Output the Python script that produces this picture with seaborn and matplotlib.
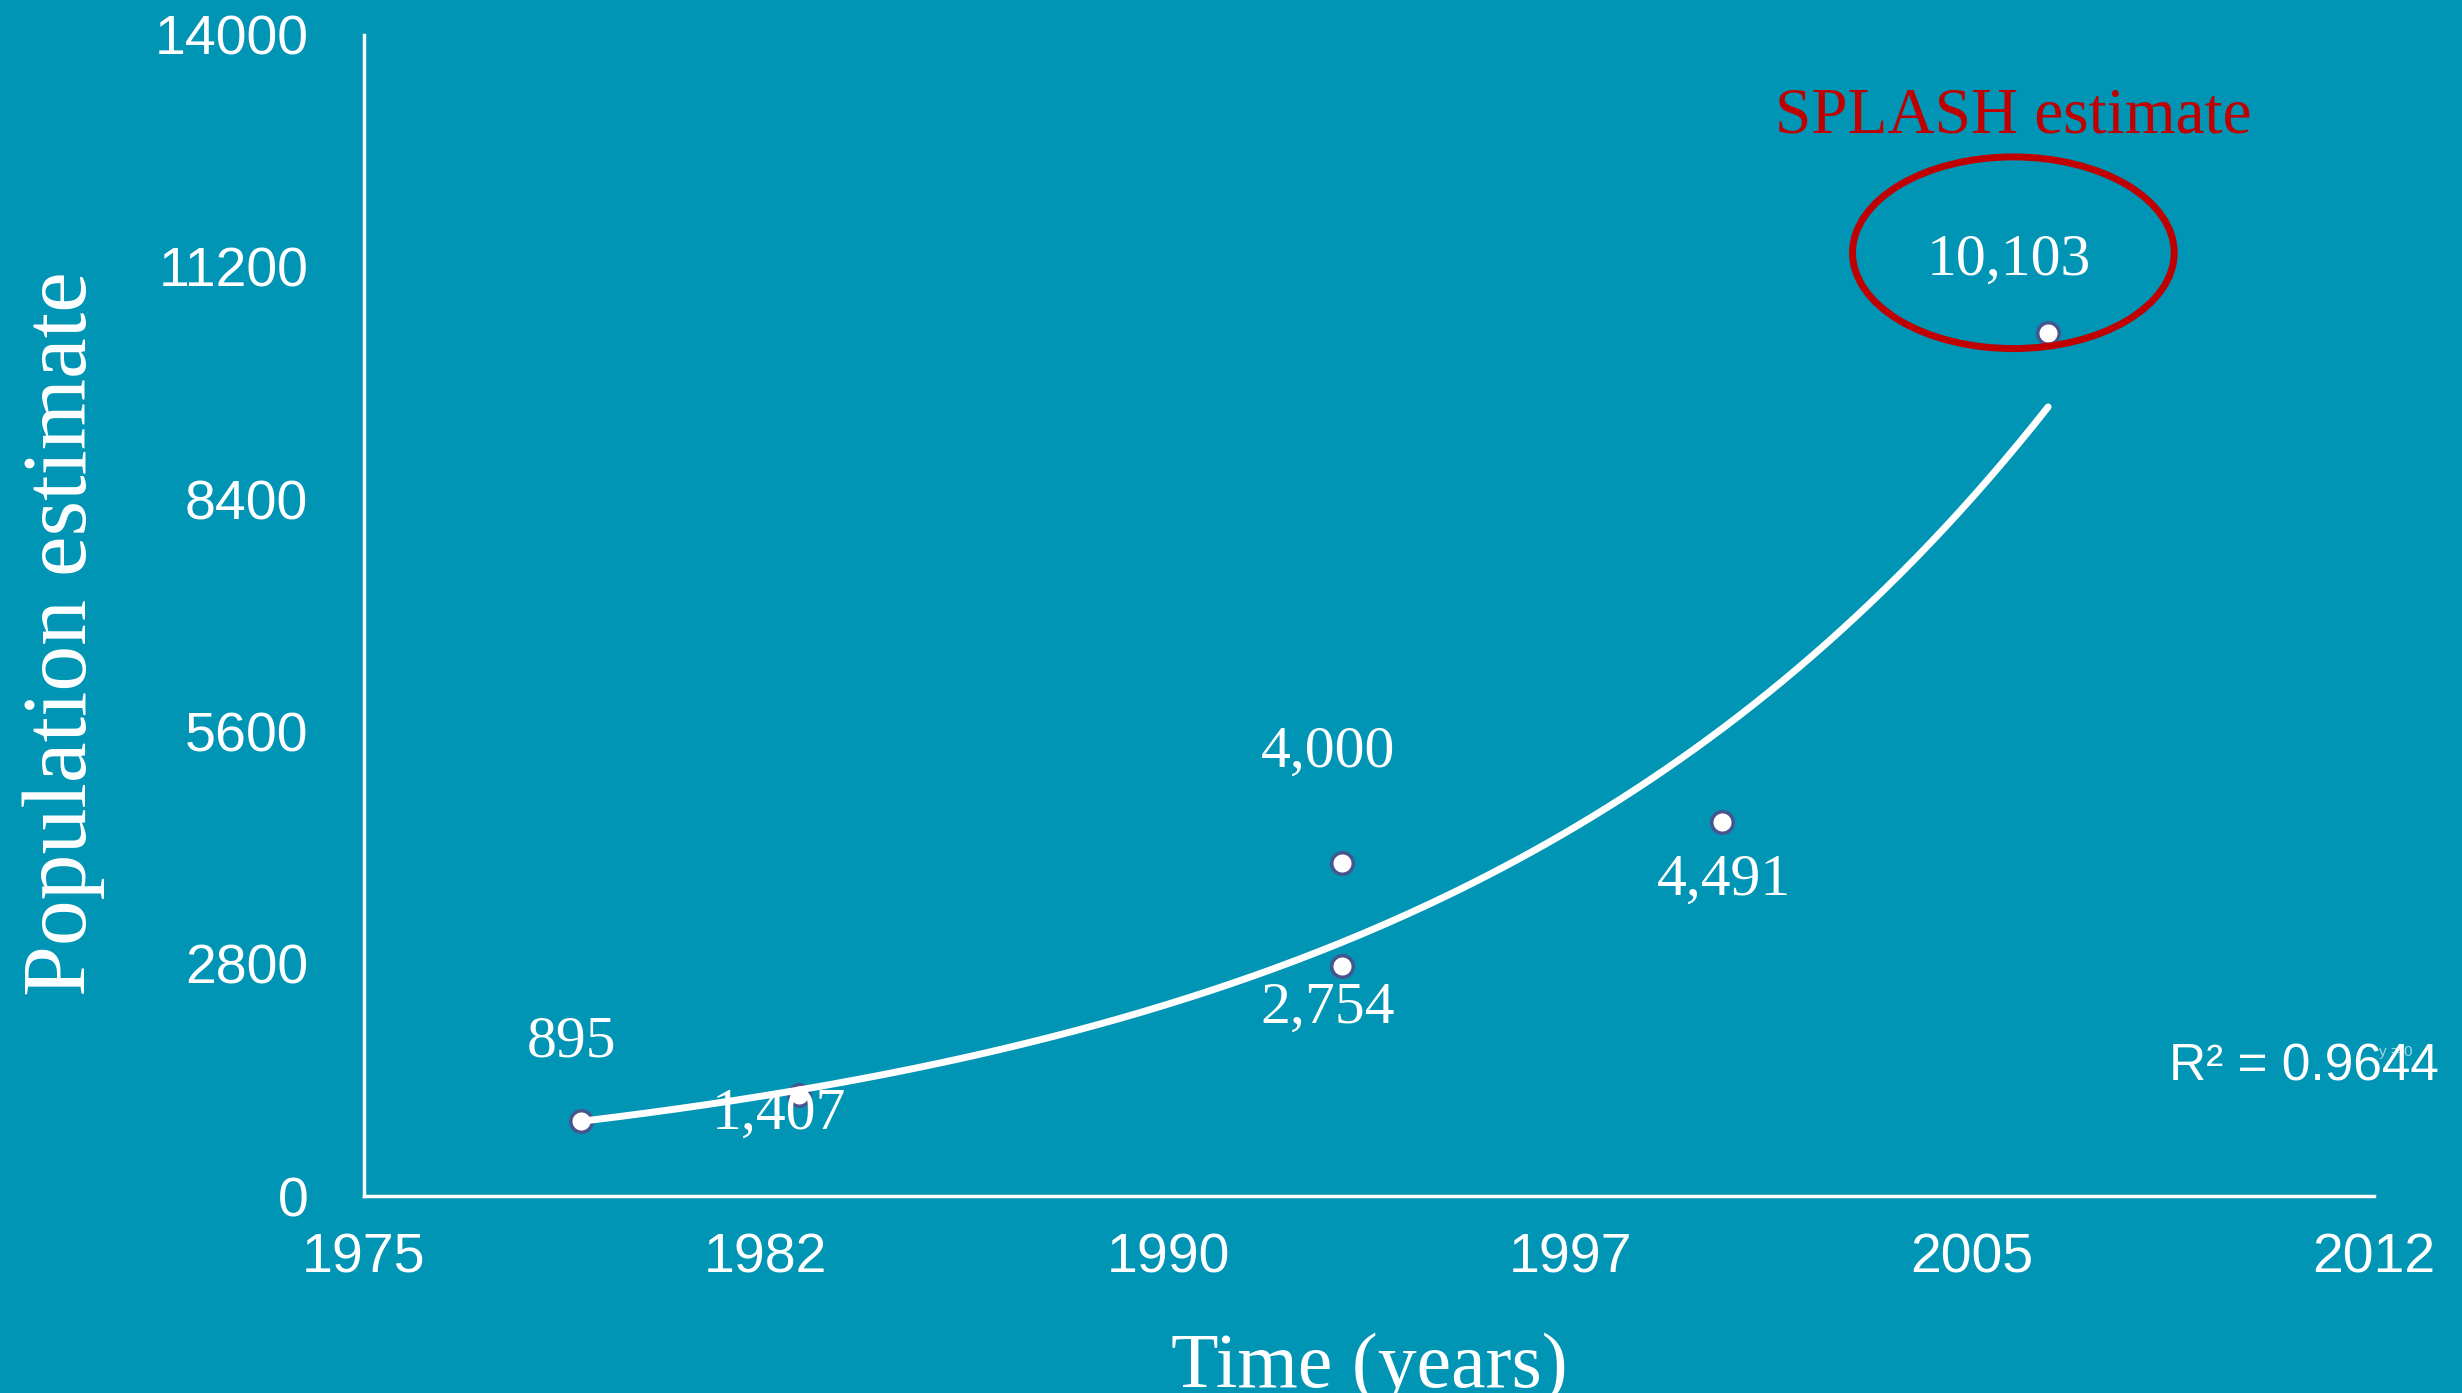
import numpy as np
import pandas as pd
import matplotlib
matplotlib.use("Agg")
import matplotlib.pyplot as plt
from matplotlib.patches import Ellipse
import seaborn as sns

# survey estimates as plotted on the chart (labels are the printed figures)
years = [1979, 1983, 1993, 1993, 2000, 2006]
population = [905, 1220, 4020, 2770, 4510, 10400]
labels = ["895", "1,407", "4,000", "2,754", "4,491", "10,103"]
# label offsets (points) from each marker
label_dx = [-7, -14, -10, -10, 1, -28]
label_dy = [61, -10, 84, -26, -38, 57]

x_ticks = np.linspace(1975, 2012, 6)
y_ticks = [0, 2800, 5600, 8400, 11200, 14000]
r2_text = "R² = 0.9644"

bg = "#0094B5"
df = pd.DataFrame({"year": years, "pop": population})

# exponential trend fitted on the points
b, a = np.polyfit(df["year"] - years[0], np.log(df["pop"]), 1)
t = np.linspace(years[0], years[-1], 200)
trend = pd.DataFrame({"year": t, "pop": np.exp(a + b * (t - years[0]))})

sns.set_style("white")
plt.rcParams["font.family"] = ["Liberation Sans", "DejaVu Sans"]

fig = plt.figure(figsize=(24.62, 13.93), dpi=100, facecolor=bg)
ax = fig.add_axes([0.1478, 0.1414, 0.8165, 0.8338])
ax.set_facecolor(bg)

sns.lineplot(data=trend, x="year", y="pop", color="white", linewidth=5, ax=ax, zorder=3)
sns.scatterplot(data=df, x="year", y="pop", s=240, color="white", edgecolor="#47558f",
                linewidth=2.5, ax=ax, zorder=2)

for yr, p, lab, dx, dy in zip(years, population, labels, label_dx, label_dy):
    ax.annotate(lab, (yr, p), xytext=(dx, dy), textcoords="offset points",
                ha="center", va="center_baseline", color="white", fontsize=43,
                family="Liberation Serif", zorder=4)

# SPLASH estimate highlight
ax.add_patch(Ellipse((2005.36, 11370), 5.92, 2310, fill=False, edgecolor="#C00000",
                     linewidth=5, clip_on=False, zorder=5))
ax.text(2005.35, 13092, "SPLASH estimate", ha="center", va="center_baseline",
        color="#C00000", fontsize=47, family="Liberation Serif")
ax.text(2010.7, 1627, r2_text, ha="center", va="center_baseline", color="white",
        fontsize=37, clip_on=False)
ax.text(2012.4, 1760, "y = 0", ha="center", va="center_baseline", color="#cfe6ee",
        fontsize=11, alpha=0.8, clip_on=False)

ax.set_xlim(1975, 2012)
ax.set_ylim(0, 14000)
ax.set_xticks(x_ticks)
ax.set_xticklabels([f"{v:.0f}" for v in x_ticks])
ax.set_yticks(y_ticks)
ax.tick_params(axis="both", colors="white", labelsize=40, length=0)
ax.tick_params(axis="y", pad=40)
ax.tick_params(axis="x", pad=26)

for side in ["top", "right"]:
    ax.spines[side].set_visible(False)
for side in ["left", "bottom"]:
    ax.spines[side].set_color("white")
    ax.spines[side].set_linewidth(2.5)

ax.set_xlabel("Time (years)", color="white", fontsize=56, family="Liberation Serif", labelpad=35)
ax.set_ylabel("Population estimate", color="white", fontsize=66, family="Liberation Serif")
ax.yaxis.set_label_coords(-0.1288, 0.4845)

fig.savefig("out.png", dpi=100, facecolor=bg)
